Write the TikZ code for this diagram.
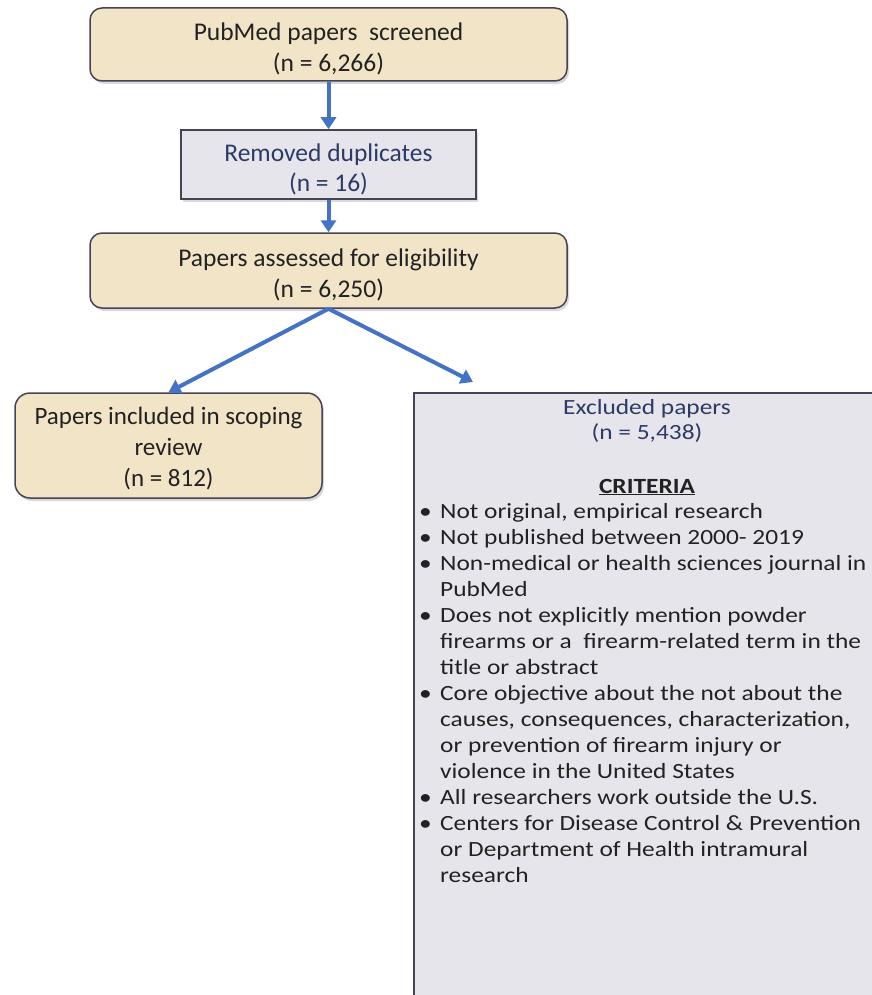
\documentclass[tikz,border=0pt]{standalone}
\usepackage{fontspec}
\setmainfont{Carlito}
\newfontfamily\widefont[FakeStretch=1.17]{Carlito}
\usetikzlibrary{arrows.meta,shadows}

\definecolor{tanbox}{RGB}{242,229,199}
\definecolor{greybox}{RGB}{230,229,236}
\definecolor{edgegrey}{RGB}{72,66,84}
\definecolor{flowblue}{RGB}{68,114,196}
\definecolor{navytext}{RGB}{44,58,102}
\definecolor{inktext}{RGB}{34,34,34}

\newcommand{\padtop}[1]{\rule{0pt}{#1}}

\begin{document}
\begin{tikzpicture}[x=1pt,y=-1pt,
    stage/.style={rectangle,rounded corners=12pt,draw=edgegrey,line width=1.5pt,fill=tanbox,
        text=inktext,align=center,inner sep=0pt,font=\fontsize{25.5}{31}\selectfont,
        drop shadow={shadow xshift=2pt,shadow yshift=-3pt,opacity=0.3}},
    dropped/.style={rectangle,draw=edgegrey,line width=1.5pt,fill=greybox,
        text=navytext,align=center,inner sep=0pt,font=\fontsize{25.5}{30}\selectfont,
        drop shadow={shadow xshift=2pt,shadow yshift=-3pt,opacity=0.3}},
    arrow/.style={-{Triangle[length=12pt,width=15pt]},line width=4pt,draw=flowblue}
]
\useasboundingbox (0,0) rectangle (871,995);

\node[stage,minimum width=477pt,minimum height=73pt] (B1) at (328.5,44.5)
    {\padtop{27pt}PubMed papers\ \ screened\\(n = 6,266)};
\node[dropped,minimum width=295pt,minimum height=69pt] (B2) at (328.5,164.5)
    {\padtop{27pt}Removed duplicates\\(n = 16)};
\node[stage,minimum width=477pt,minimum height=75pt] (B3) at (328.5,270.5)
    {\padtop{27pt}Papers assessed for eligibility\\(n = 6,250)};
\node[stage,rounded corners=15pt,font=\fontsize{25}{31}\selectfont,
    minimum width=307pt,minimum height=105pt] (B4) at (168.5,445.5)
    {\padtop{23pt}Papers included in scoping\\review\\(n = 812)};

\node[dropped,minimum width=466pt,minimum height=617pt] (B5) at (647,701.5) {};
\node[text=navytext,align=center,font=\widefont\fontsize{21.7}{25}\selectfont] (B5title) at (647,420.5)
    {Excluded papers\\(n = 5,438)};
\node[text=inktext,font=\widefont\fontsize{21.7}{26}\selectfont] (crit) at (647,487)
    {\textbf{\underline{CRITERIA}}};
\node[text=inktext,anchor=base west,inner sep=0pt,font=\widefont\fontsize{21.7}{26}\selectfont] (critlist) at (419,518)
    {\begin{tabular}[t]{@{}p{21pt}@{}l@{}}
    \textbullet & Not original, empirical research\\
    \textbullet & Not published between 2000- 2019\\
    \textbullet & Non-medical or health sciences journal in\\
     & PubMed\\
    \textbullet & Does not explicitly mention powder\\
     & firearms or a\ \ firearm-related term in the\\
     & title or abstract\\
    \textbullet & Core objective about the not about the\\
     & causes, consequences, characterization,\\
     & or prevention of firearm injury or\\
     & violence in the United States\\
    \textbullet & All researchers work outside the U.S.\\
    \textbullet & Centers for Disease Control \& Prevention\\
     & or Department of Health intramural\\
     & research
    \end{tabular}};

\coordinate (exTip) at (473,382);

\draw[arrow] (B1.south) -- (B2.north);
\draw[arrow] (B2.south) -- (B3.north);
\draw[arrow] (B3.south) -- (B4.north);
\draw[arrow] (B3.south) -- (exTip);

\end{tikzpicture}
\end{document}
